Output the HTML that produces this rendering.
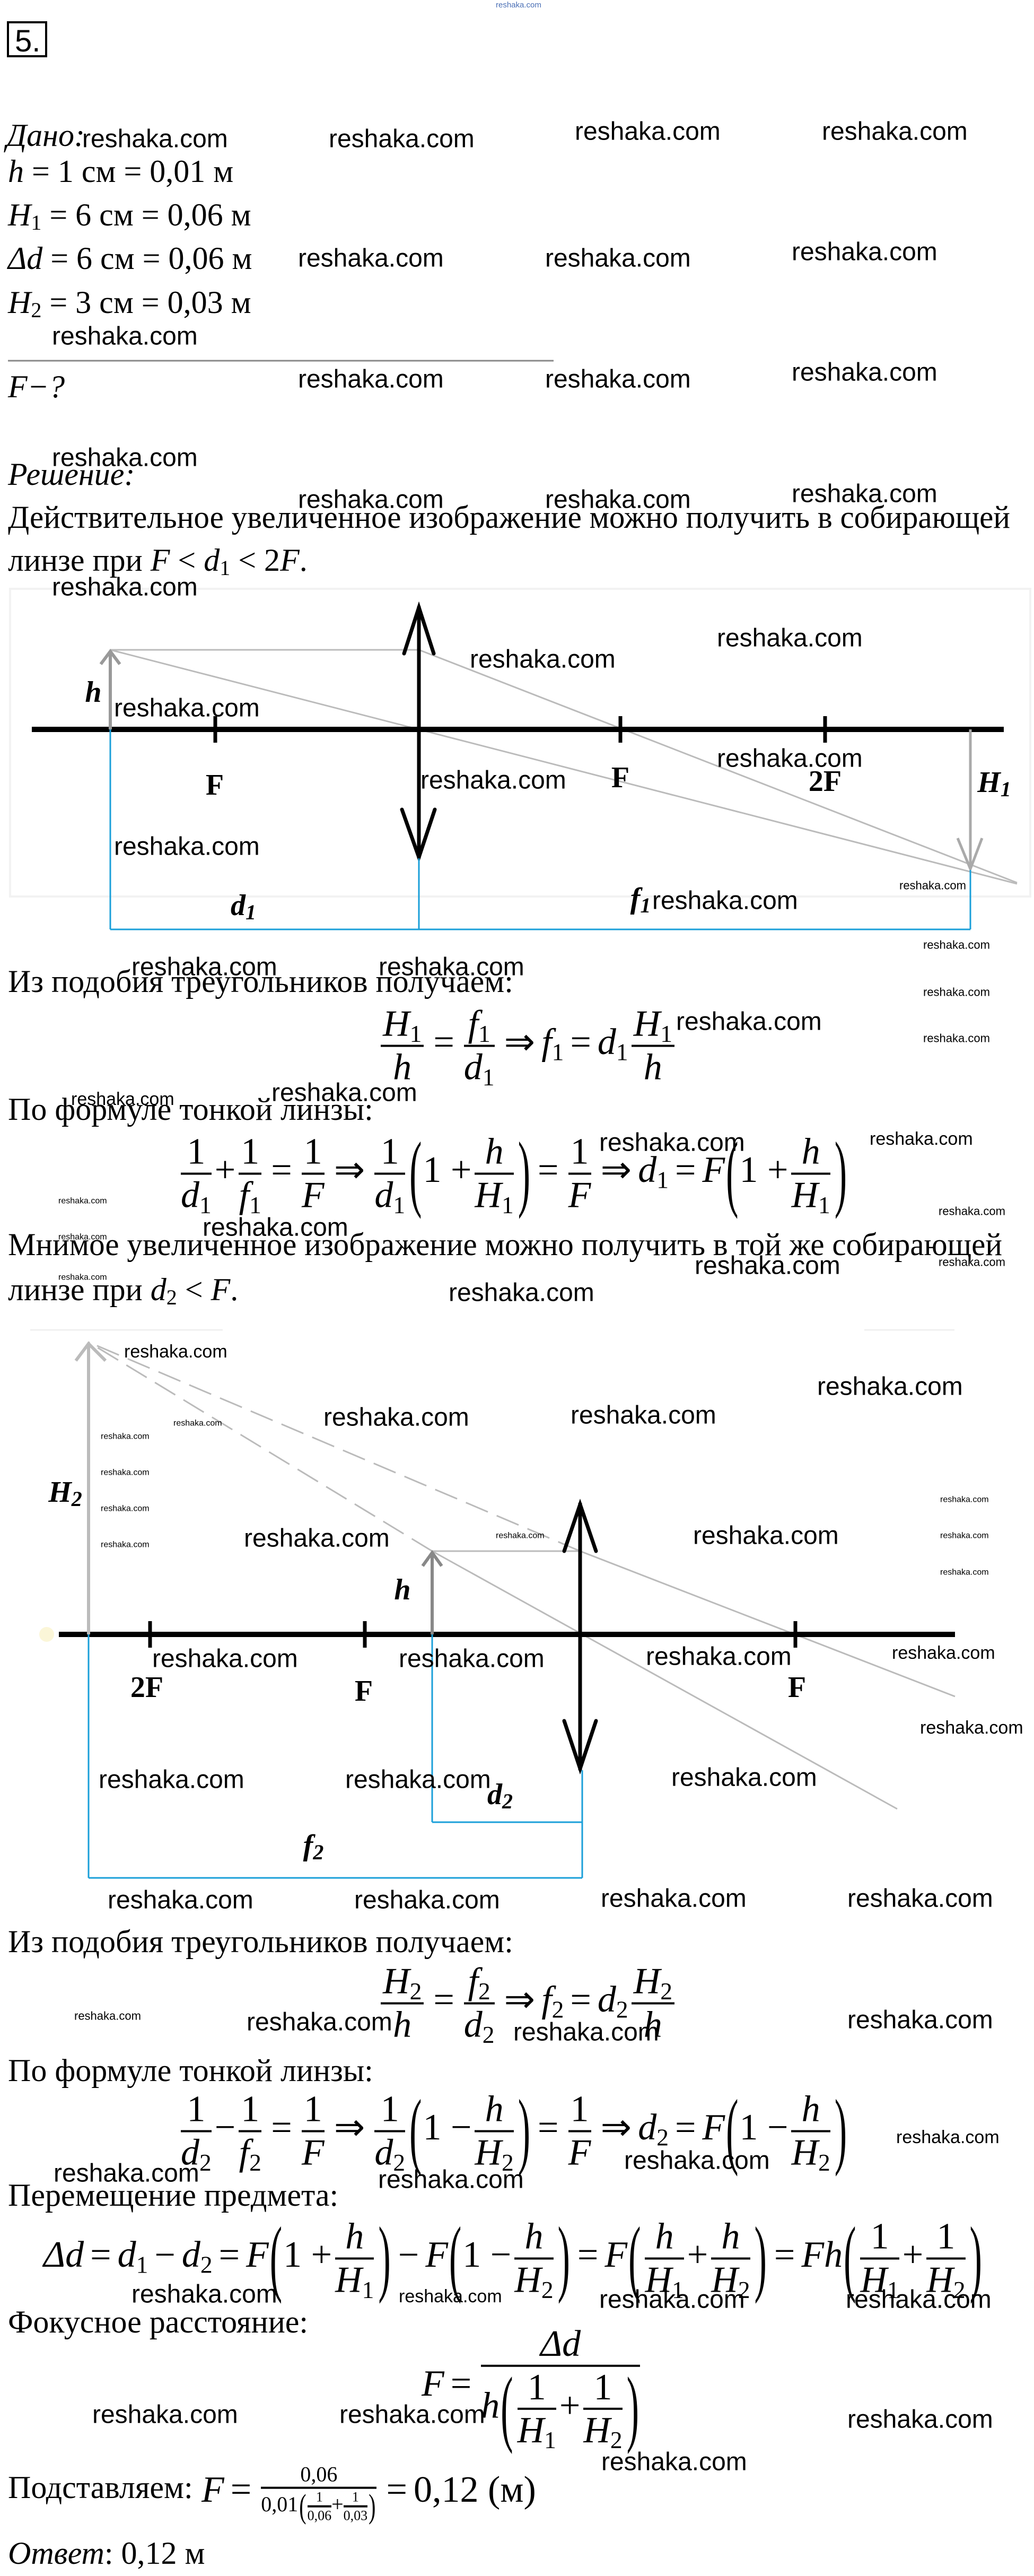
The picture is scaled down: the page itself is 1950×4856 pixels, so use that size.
<!DOCTYPE html>
<html><head><meta charset="utf-8">
<style>
html,body{margin:0;padding:0;background:#fff}
body{width:1950px;height:4856px;position:relative;overflow:hidden}
svg{position:absolute;left:0;top:0}
.m{position:absolute;font:70px/1.05 "Liberation Serif",serif;white-space:nowrap;display:block;transform:translateY(-50%)}
.m i{font-style:italic}
.f{display:inline-flex;flex-direction:column;align-items:stretch;text-align:center;margin:0 6px;vertical-align:middle}
.f>span:first-child{border-bottom:4px solid #000;padding:0 4px 2px}
.f>span:last-child{padding-top:2px}
sub{font-size:.65em;vertical-align:-.25em;line-height:0}
.p{display:inline-block;transform:scaleY(2.3);font-weight:normal;margin:0 2px;vertical-align:middle}
.o{margin:0 12px}
</style></head><body>
<svg width="1950" height="4856" viewBox="0 0 1950 4856" xmlns="http://www.w3.org/2000/svg">
<g font-family="Liberation Sans, sans-serif" fill="#000">
<text x="935" y="14" font-size="15" fill="#4a6fb5">reshaka.com</text>
</g>
<rect x="15" y="42" width="72" height="64" fill="none" stroke="#000" stroke-width="4"/>
<text x="28" y="97" font-family="Liberation Sans, sans-serif" font-size="58">5.</text>

<g font-family="Liberation Serif, serif" font-size="60" dominant-baseline="central">
<text x="12" y="255" font-style="italic">Дано:</text>
<text x="15" y="323"><tspan font-style="italic">h</tspan> = 1 см = 0,01 м</text>
<text x="15" y="405"><tspan font-style="italic">H</tspan><tspan font-size="40" dy="14">1</tspan><tspan dy="-14"> = 6 см = 0,06 м</tspan></text>
<text x="15" y="487"><tspan font-style="italic">Δd</tspan> = 6 см = 0,06 м</text>
<text x="15" y="570"><tspan font-style="italic">H</tspan><tspan font-size="40" dy="14">2</tspan><tspan dy="-14"> = 3 см = 0,03 м</tspan></text>
<text x="15" y="729" font-style="italic">F−?</text>
<text x="15" y="894" font-style="italic">Решение:</text>
<text x="15" y="975" textLength="1890" lengthAdjust="spacingAndGlyphs">Действительное увеличенное изображение можно получить в собирающей</text>
<text x="15" y="1056">линзе при  <tspan font-style="italic">F</tspan>  &lt;  <tspan font-style="italic">d</tspan><tspan font-size="40" dy="14">1</tspan><tspan dy="-14">  &lt;  2</tspan><tspan font-style="italic">F</tspan>.</text>
<text x="15" y="1850">Из подобия треугольников получаем:</text>
<text x="15" y="2091">По формуле тонкой линзы:</text>
<text x="15" y="2346" textLength="1875" lengthAdjust="spacingAndGlyphs">Мнимое увеличенное изображение можно получить в той же собирающей</text>
<text x="15" y="2431">линзе при <tspan font-style="italic">d</tspan><tspan font-size="40" dy="14">2</tspan><tspan dy="-14"> &lt; </tspan><tspan font-style="italic">F</tspan>.</text>
<text x="15" y="3660">Из подобия треугольников получаем:</text>
<text x="15" y="3903">По формуле тонкой линзы:</text>
<text x="15" y="4138">Перемещение предмета:</text>
<text x="15" y="4377">Фокусное расстояние:</text>
<text x="15" y="4689">Подставляем:</text>
<text x="15" y="4813"><tspan font-style="italic">Ответ</tspan>: 0,12 м</text>
</g>
<line x1="15" y1="680" x2="1044" y2="680" stroke="#888" stroke-width="3"/>

<!-- Diagram 1 -->
<rect x="19" y="1110" width="1924" height="580" fill="none" stroke="#f2f2f2" stroke-width="4"/>
<g stroke="#bbb" stroke-width="3" fill="none">
<line x1="208" y1="1225" x2="790" y2="1225"/>
<line x1="790" y1="1225" x2="1918" y2="1664"/>
<line x1="208" y1="1225" x2="1918" y2="1666"/>
</g>
<line x1="60" y1="1375" x2="1893" y2="1375" stroke="#000" stroke-width="10"/>
<g stroke="#000" stroke-width="7">
<line x1="406" y1="1350" x2="406" y2="1400"/><line x1="1170" y1="1350" x2="1170" y2="1400"/><line x1="1556" y1="1350" x2="1556" y2="1400"/>
<line x1="790" y1="1143" x2="790" y2="1618"/>
</g>
<g stroke="#000" stroke-width="7" fill="none" stroke-linecap="round">
<polyline points="762,1232 790,1145 818,1232"/>
<polyline points="758,1526 790,1616 820,1526"/>
</g>
<g stroke="#999" stroke-width="6" fill="none">
<line x1="208" y1="1375" x2="208" y2="1228"/>
<polyline points="190,1252 208,1228 226,1252"/>
</g>
<g stroke="#aaa" stroke-width="5" fill="none">
<line x1="1830" y1="1375" x2="1830" y2="1638"/>
<polyline points="1806,1580 1830,1638 1852,1580"/>
</g>
<g stroke="#1a9fd9" stroke-width="3">
<line x1="208" y1="1375" x2="208" y2="1752"/><line x1="790" y1="1618" x2="790" y2="1752"/>
<line x1="1830" y1="1640" x2="1830" y2="1752"/><line x1="208" y1="1752" x2="1830" y2="1752"/>
</g>
<g font-family="Liberation Serif, serif" font-weight="bold" font-size="56" text-anchor="middle" dominant-baseline="central">
<text x="405" y="1480">F</text><text x="1170" y="1466">F</text><text x="1556" y="1473">2F</text>
<text x="1875" y="1475" font-style="italic">H<tspan font-size="40" dy="12">1</tspan></text>
<text x="176" y="1305" font-style="italic">h</text>
<text x="459" y="1707" font-style="italic">d<tspan font-size="40" dy="12">1</tspan></text>
<text x="1208" y="1694" font-style="italic">f<tspan font-size="40" dy="12">1</tspan></text>
</g>

<!-- Diagram 2 -->
<line x1="57" y1="2507" x2="420" y2="2507" stroke="#f0f0f0" stroke-width="3"/>
<line x1="1630" y1="2507" x2="1800" y2="2507" stroke="#f0f0f0" stroke-width="3"/>
<circle cx="88" cy="3081" r="14" fill="#fbf6d8"/>
<g stroke="#bbb" stroke-width="3" fill="none">
<line x1="815" y1="2924" x2="1094" y2="2924"/>
<line x1="1094" y1="2924" x2="1801" y2="3198"/>
<line x1="815" y1="2924" x2="1692" y2="3410"/>
<line x1="1094" y1="2924" x2="167" y2="2530" stroke-dasharray="45 18"/>
<line x1="815" y1="2924" x2="167" y2="2530" stroke-dasharray="45 18"/>
</g>
<line x1="111" y1="3081" x2="1801" y2="3081" stroke="#000" stroke-width="10"/>
<g stroke="#000" stroke-width="7">
<line x1="283" y1="3056" x2="283" y2="3106"/><line x1="688" y1="3056" x2="688" y2="3106"/><line x1="1500" y1="3056" x2="1500" y2="3106"/>
<line x1="1094" y1="2833" x2="1094" y2="3337"/>
</g>
<g stroke="#000" stroke-width="7" fill="none" stroke-linecap="round">
<polyline points="1064,2924 1094,2836 1124,2924"/>
<polyline points="1064,3244 1094,3334 1124,3244"/>
</g>
<g stroke="#bbb" stroke-width="6" fill="none">
<line x1="167" y1="3081" x2="167" y2="2533"/>
<polyline points="143,2565 167,2533 199,2565"/>
</g>
<g stroke="#888" stroke-width="6" fill="none">
<line x1="815" y1="3081" x2="815" y2="2927"/>
<polyline points="797,2952 815,2927 833,2952"/>
</g>
<g stroke="#1a9fd9" stroke-width="3">
<line x1="167" y1="3081" x2="167" y2="3540"/><line x1="167" y1="3540" x2="1098" y2="3540"/>
<line x1="1098" y1="3337" x2="1098" y2="3540"/>
<line x1="815" y1="3081" x2="815" y2="3435"/><line x1="815" y1="3435" x2="1098" y2="3435"/>
</g>
<g font-family="Liberation Serif, serif" font-weight="bold" font-size="56" text-anchor="middle" dominant-baseline="central">
<text x="277" y="3181">2F</text><text x="686" y="3188">F</text><text x="1503" y="3181">F</text>
<text x="759" y="2997" font-style="italic">h</text>
<text x="123" y="2813" font-style="italic">H<tspan font-size="40" dy="12">2</tspan></text>
<text x="943" y="3383" font-style="italic">d<tspan font-size="40" dy="12">2</tspan></text>
<text x="591" y="3479" font-style="italic">f<tspan font-size="40" dy="12">2</tspan></text>
</g>

<!-- watermarks -->
<g font-family="Liberation Sans, sans-serif" font-size="48" dominant-baseline="central" fill="#000">
<text x="155" y="262">reshaka.com</text><text x="620" y="262">reshaka.com</text><text x="1084" y="248">reshaka.com</text><text x="1550" y="248">reshaka.com</text>
<text x="562" y="487">reshaka.com</text><text x="1028" y="487">reshaka.com</text><text x="1493" y="475">reshaka.com</text>
<text x="98" y="634">reshaka.com</text>
<text x="562" y="715">reshaka.com</text><text x="1028" y="715">reshaka.com</text><text x="1493" y="702">reshaka.com</text>
<text x="98" y="863">reshaka.com</text>
<text x="562" y="942">reshaka.com</text><text x="1028" y="942">reshaka.com</text><text x="1493" y="931">reshaka.com</text>
<text x="98" y="1107">reshaka.com</text>
<text x="1352" y="1203">reshaka.com</text><text x="886" y="1243">reshaka.com</text><text x="215" y="1335">reshaka.com</text>
<text x="1352" y="1430">reshaka.com</text><text x="793" y="1471">reshaka.com</text><text x="215" y="1596">reshaka.com</text>
<text x="1230" y="1698">reshaka.com</text>
<text x="248" y="1823">reshaka.com</text><text x="714" y="1823">reshaka.com</text>
<text x="1275" y="1926">reshaka.com</text>
<text x="512" y="2060">reshaka.com</text>
<text x="1130" y="2154">reshaka.com</text>
<text x="382" y="2314">reshaka.com</text>
<text x="1310" y="2386">reshaka.com</text>
<text x="846" y="2437">reshaka.com</text>
<text x="610" y="2672">reshaka.com</text><text x="1076" y="2668">reshaka.com</text><text x="1541" y="2614">reshaka.com</text>
<text x="460" y="2900">reshaka.com</text><text x="1307" y="2895">reshaka.com</text>
<text x="287" y="3127">reshaka.com</text><text x="752" y="3127">reshaka.com</text><text x="1218" y="3123">reshaka.com</text>
<text x="186" y="3355">reshaka.com</text><text x="651" y="3355">reshaka.com</text><text x="1266" y="3351">reshaka.com</text>
<text x="203" y="3582">reshaka.com</text><text x="668" y="3582">reshaka.com</text><text x="1133" y="3579">reshaka.com</text><text x="1598" y="3579">reshaka.com</text>
<text x="465" y="3812">reshaka.com</text><text x="968" y="3831">reshaka.com</text><text x="1598" y="3808">reshaka.com</text>
<text x="1177" y="4073">reshaka.com</text><text x="101" y="4097">reshaka.com</text><text x="713" y="4109">reshaka.com</text>
<text x="248" y="4325">reshaka.com</text><text x="1130" y="4335">reshaka.com</text><text x="1595" y="4335">reshaka.com</text>
<text x="174" y="4552">reshaka.com</text><text x="640" y="4552">reshaka.com</text><text x="1598" y="4561">reshaka.com</text>
<text x="1134" y="4641">reshaka.com</text>
</g>
<g font-family="Liberation Sans, sans-serif" font-size="34" dominant-baseline="central">
<text x="234" y="2548">reshaka.com</text>
<text x="1682" y="3116">reshaka.com</text><text x="1735" y="3257">reshaka.com</text>
<text x="1690" y="4029">reshaka.com</text><text x="752" y="4329">reshaka.com</text>
<text x="1640" y="2147">reshaka.com</text><text x="134" y="2072">reshaka.com</text>
</g>
<g font-family="Liberation Sans, sans-serif" font-size="22" dominant-baseline="central">
<text x="1696" y="1669">reshaka.com</text><text x="1741" y="1781">reshaka.com</text><text x="1741" y="1870">reshaka.com</text><text x="1741" y="1957">reshaka.com</text>
<text x="1770" y="2283">reshaka.com</text><text x="1770" y="2379">reshaka.com</text>
<text x="140" y="3800">reshaka.com</text>
</g>
<g font-family="Liberation Sans, sans-serif" font-size="16" dominant-baseline="central">
<text x="110" y="2264">reshaka.com</text><text x="110" y="2332">reshaka.com</text><text x="110" y="2408">reshaka.com</text>
<text x="327" y="2683">reshaka.com</text><text x="190" y="2708">reshaka.com</text><text x="190" y="2776">reshaka.com</text><text x="190" y="2844">reshaka.com</text><text x="190" y="2912">reshaka.com</text>
<text x="935" y="2895">reshaka.com</text>
<text x="1773" y="2827">reshaka.com</text><text x="1773" y="2895">reshaka.com</text><text x="1773" y="2964">reshaka.com</text>
</g>
</svg>

<!-- formulas -->
<div class="m" style="left:712px;top:1971px">
<span class="f"><span><i>H</i><sub>1</sub></span><span><i>h</i></span></span><span class="o">=</span><span class="f"><span><i>f</i><sub>1</sub></span><span><i>d</i><sub>1</sub></span></span><span class="o">⇒</span><i>f</i><sub>1</sub><span class="o">=</span><i>d</i><sub>1</sub><span class="f"><span><i>H</i><sub>1</sub></span><span><i>h</i></span></span>
</div>

<div class="m" style="left:335px;top:2212px">
<span class="f"><span>1</span><span><i>d</i><sub>1</sub></span></span>+<span class="f"><span>1</span><span><i>f</i><sub>1</sub></span></span><span class="o">=</span><span class="f"><span>1</span><span><i>F</i></span></span><span class="o">⇒</span><span class="f"><span>1</span><span><i>d</i><sub>1</sub></span></span><span class="p">(</span>1 +<span class="f"><span><i>h</i></span><span><i>H</i><sub>1</sub></span></span><span class="p">)</span><span class="o">=</span><span class="f"><span>1</span><span><i>F</i></span></span><span class="o">⇒</span><i>d</i><sub>1</sub><span class="o">=</span><i>F</i><span class="p">(</span>1 +<span class="f"><span><i>h</i></span><span><i>H</i><sub>1</sub></span></span><span class="p">)</span>
</div>

<div class="m" style="left:712px;top:3776px">
<span class="f"><span><i>H</i><sub>2</sub></span><span><i>h</i></span></span><span class="o">=</span><span class="f"><span><i>f</i><sub>2</sub></span><span><i>d</i><sub>2</sub></span></span><span class="o">⇒</span><i>f</i><sub>2</sub><span class="o">=</span><i>d</i><sub>2</sub><span class="f"><span><i>H</i><sub>2</sub></span><span><i>h</i></span></span>
</div>

<div class="m" style="left:335px;top:4017px">
<span class="f"><span>1</span><span><i>d</i><sub>2</sub></span></span>−<span class="f"><span>1</span><span><i>f</i><sub>2</sub></span></span><span class="o">=</span><span class="f"><span>1</span><span><i>F</i></span></span><span class="o">⇒</span><span class="f"><span>1</span><span><i>d</i><sub>2</sub></span></span><span class="p">(</span>1 −<span class="f"><span><i>h</i></span><span><i>H</i><sub>2</sub></span></span><span class="p">)</span><span class="o">=</span><span class="f"><span>1</span><span><i>F</i></span></span><span class="o">⇒</span><i>d</i><sub>2</sub><span class="o">=</span><i>F</i><span class="p">(</span>1 −<span class="f"><span><i>h</i></span><span><i>H</i><sub>2</sub></span></span><span class="p">)</span>
</div>

<div class="m" style="left:82px;top:4257px">
<i>Δd</i><span class="o">=</span><i>d</i><sub>1</sub><span class="o">−</span><i>d</i><sub>2</sub><span class="o">=</span><i>F</i><span class="p">(</span>1 +<span class="f"><span><i>h</i></span><span><i>H</i><sub>1</sub></span></span><span class="p">)</span><span class="o">−</span><i>F</i><span class="p">(</span>1 −<span class="f"><span><i>h</i></span><span><i>H</i><sub>2</sub></span></span><span class="p">)</span><span class="o">=</span><i>F</i><span class="p">(</span><span class="f"><span><i>h</i></span><span><i>H</i><sub>1</sub></span></span>+<span class="f"><span><i>h</i></span><span><i>H</i><sub>2</sub></span></span><span class="p">)</span><span class="o">=</span><i>Fh</i><span class="p">(</span><span class="f"><span>1</span><span><i>H</i><sub>1</sub></span></span>+<span class="f"><span>1</span><span><i>H</i><sub>2</sub></span></span><span class="p">)</span>
</div>

<div class="m" style="left:795px;top:4500px">
<i>F</i><span class="o">=</span><span class="f"><span><i>Δd</i></span><span><i>h</i><span class="p">(</span><span class="f"><span>1</span><span><i>H</i><sub>1</sub></span></span>+<span class="f"><span>1</span><span><i>H</i><sub>2</sub></span></span><span class="p">)</span></span></span>
</div>

<div class="m" style="left:380px;top:4700px">
<i>F</i><span class="o">=</span><span class="f" style="font-size:40px"><span>0,06</span><span>0,01<span class="p" style="transform:scaleY(1.6)">(</span><span class="f" style="font-size:26px;margin:0"><span>1</span><span>0,06</span></span>+<span class="f" style="font-size:26px;margin:0"><span>1</span><span>0,03</span></span><span class="p" style="transform:scaleY(1.6)">)</span></span></span><span class="o">=</span>0,12 (м)
</div>
</body></html>
